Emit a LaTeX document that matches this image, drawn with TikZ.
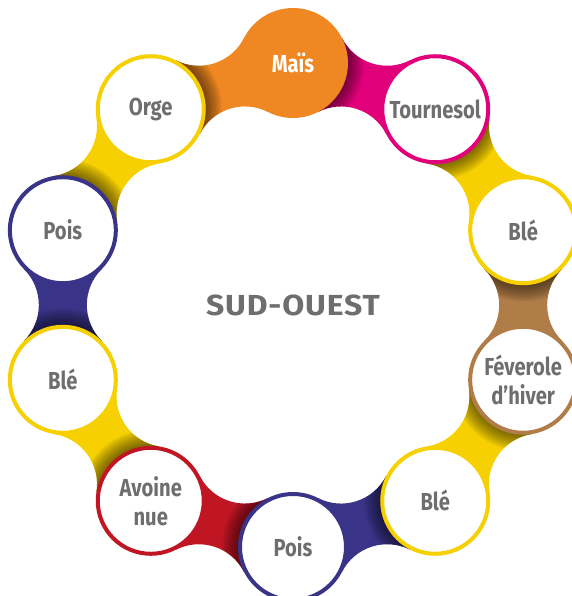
\documentclass[tikz,border=0pt]{standalone}
\usepackage{fontspec}
\setmainfont{Fira Sans}
\newfontfamily\cropfont[FakeStretch=0.82]{Fira Sans}
\newfontfamily\regionfont[FakeStretch=1.1,LetterSpace=3]{Fira Sans}
\pgfdeclarelayer{background}
\pgfsetlayers{background,main}
\definecolor{orangemais}{RGB}{239,136,34}
\definecolor{pinksun}{RGB}{226,0,122}
\definecolor{yellowble}{RGB}{246,208,0}
\definecolor{brownfev}{RGB}{176,124,72}
\definecolor{bluepois}{RGB}{58,52,136}
\definecolor{redoat}{RGB}{192,22,36}
\definecolor{txtgray}{RGB}{110,110,110}
\tikzstyle{crop} = [circle, minimum size=53pt, inner sep=0pt, fill=white, line width=2pt,
  text=txtgray, align=center, font=\cropfont\bfseries\fontsize{12.3}{14.5}\selectfont]
\tikzstyle{region} = [text=txtgray, font=\regionfont\bfseries\fontsize{14.5}{16}\selectfont]
\newcommand\linkpath{(45:55) arc[start angle=225, end angle=315, radius=50.74]
  -- (110.68,-38.86) arc[start angle=45, end angle=135, radius=50.74] -- cycle}

\begin{document}
\begin{tikzpicture}[x=0.5pt, y=0.5pt]
  \useasboundingbox (-293,-291) rectangle (279,305);
  \node (centre) at (0,0) [region] {SUD-OUEST};
  \node (a) at (90:242) [crop, draw=orangemais, fill=orangemais, text=white] {Maïs};
  \node (b) at (54:242) [crop, draw=pinksun] {Tournesol};
  \node (c) at (18:242) [crop, draw=yellowble] {Blé};
  \node (d) at (-18:242) [crop, draw=brownfev] {Féverole\\d’hiver};
  \node (e) at (-54:242) [crop, draw=yellowble] {Blé};
  \node (f) at (-90:242) [crop, draw=bluepois] {Pois};
  \node (g) at (-126:242) [crop, draw=redoat] {Avoine\\nue};
  \node (h) at (-162:242) [crop, draw=yellowble] {Blé};
  \node (i) at (162:242) [crop, draw=bluepois] {Pois};
  \node (j) at (126:242) [crop, draw=yellowble] {Orge};
  % links between neighbours, shaded under the first circle
  \begin{pgfonlayer}{background}
    \foreach \p/\q/\ang/\col in {a/b/-18/pinksun, b/c/-54/yellowble, c/d/-90/brownfev,
        d/e/-126/yellowble, e/f/-162/bluepois, f/g/162/redoat, g/h/126/yellowble,
        h/i/90/bluepois, i/j/54/yellowble, j/a/18/orangemais} {
      \begin{scope}[shift={(\p.center)}, rotate=\ang]
        \fill[\col] \linkpath;
        \begin{scope}
          \clip \linkpath;
          \foreach \k in {1,...,8}
            \fill[black, opacity=0.07] (0,0) circle[radius=55+2*\k];
        \end{scope}
      \end{scope}
    }
  \end{pgfonlayer}
\end{tikzpicture}
\end{document}
